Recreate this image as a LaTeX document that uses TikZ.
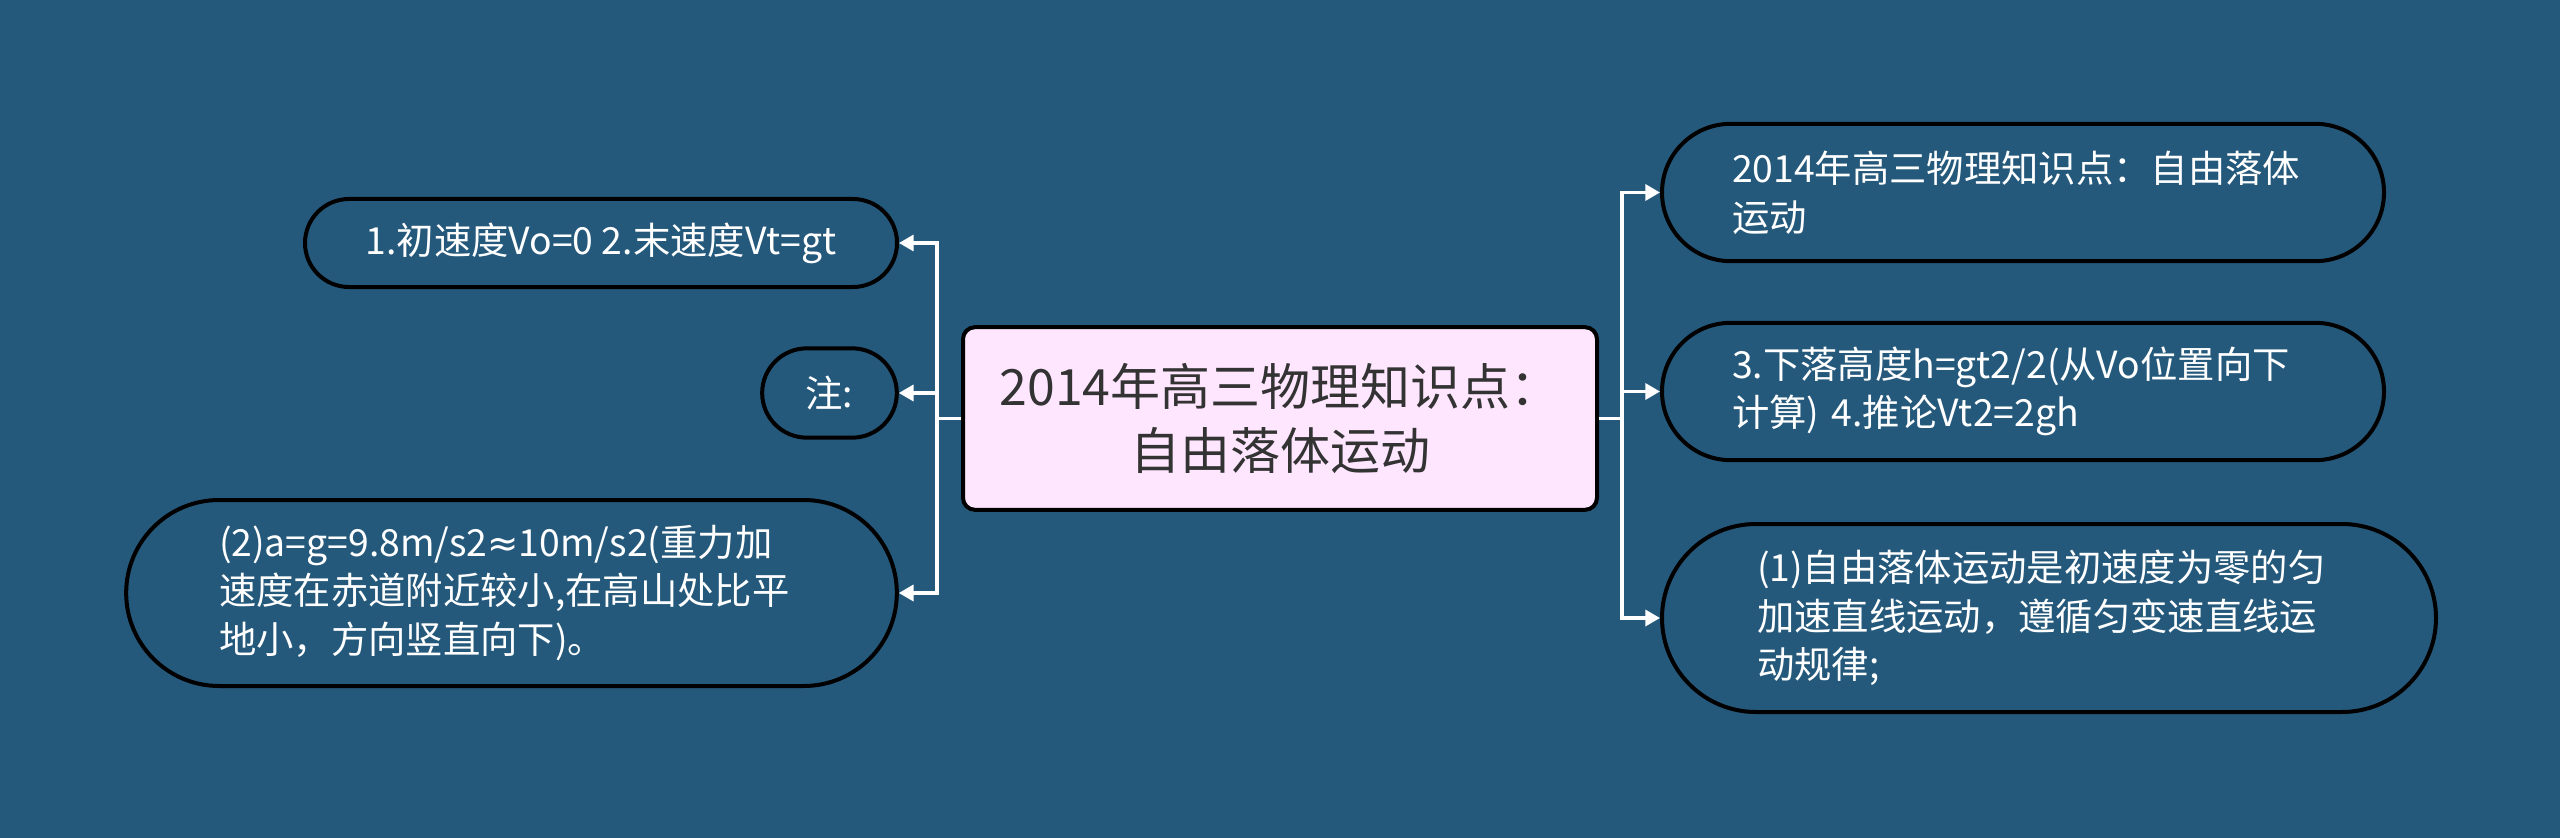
\documentclass[tikz,border=0pt]{standalone}
\usepackage{fontspec}
\setmainfont{Noto Sans CJK SC}
\newfontfamily\symfont{DejaVu Sans}
\usepackage{tikz}
\usetikzlibrary{arrows.meta}
\definecolor{bgblue}{RGB}{37,89,123}
\definecolor{rootpink}{RGB}{255,230,255}
\definecolor{rootink}{RGB}{51,51,51}

\begin{document}
\begin{tikzpicture}[x=0.75pt,y=0.75pt,yscale=-1,xscale=1,
  rootbox/.style={draw=black,fill=rootpink,line width=3pt,rounded corners=9pt,text=rootink,align=center,font=\fontsize{37.5}{48}\selectfont,minimum width=475.5pt,minimum height=137pt,inner sep=0pt},
  leafbox/.style={draw=black,line width=3pt,text=white,align=left,font=\fontsize{28}{36.5}\selectfont,inner sep=0pt},
  branch/.style={draw=white,line width=2.5pt,-{Triangle[length=11pt,width=12pt]}}]
%set diagram size: 2560 x 838
\fill[bgblue] (0,0) rectangle (2560,838);

% Root
\node[rootbox] (root) at (1280,418.5) {2014年高三物理知识点：\\自由落体运动};

% Left leaves
\node[leafbox,minimum width=444pt,minimum height=66pt,rounded corners=33pt] (vel) at (601,243) {1.初速度Vo=0 2.末速度Vt=gt};
\node[leafbox,minimum width=101pt,minimum height=67pt,rounded corners=33.5pt] (note) at (829.5,393) {注:};
\node[leafbox,minimum width=578pt,minimum height=139.5pt,rounded corners=69.75pt,text width=438.75pt] (accel) at (511.5,593) {(2)a=g=9.8m/s2{\symfont ≈}10m/s2(重力加\\速度在赤道附近较小,在高山处比平\\地小，方向竖直向下)。};

% Right leaves
\node[leafbox,minimum width=541.5pt,minimum height=103pt,rounded corners=51.5pt,text width=436.5pt] (title) at (2023,192.5) {2014年高三物理知识点：自由落体\\运动};
\node[leafbox,minimum width=541.5pt,minimum height=103pt,rounded corners=51.5pt,text width=436.5pt] (fall) at (2023,391.5) {3.下落高度h=gt2/2(从Vo位置向下\\计算) 4.推论Vt2=2gh};
\node[leafbox,minimum width=580.5pt,minimum height=141pt,rounded corners=70.5pt,text width=438pt] (rule) at (2049,618) {(1)自由落体运动是初速度为零的匀\\加速直线运动，遵循匀变速直线运\\动规律;};

% Connectors
\draw[branch] (root.west) -- ++(-24,0) |- (vel.east);
\draw[branch] (root.west) -- ++(-24,0) |- (note.east);
\draw[branch] (root.west) -- ++(-24,0) |- (accel.east);
\draw[branch] (root.east) -- ++(23,0) |- (title.west);
\draw[branch] (root.east) -- ++(23,0) |- (fall.west);
\draw[branch] (root.east) -- ++(23,0) |- (rule.west);

\end{tikzpicture}
\end{document}
